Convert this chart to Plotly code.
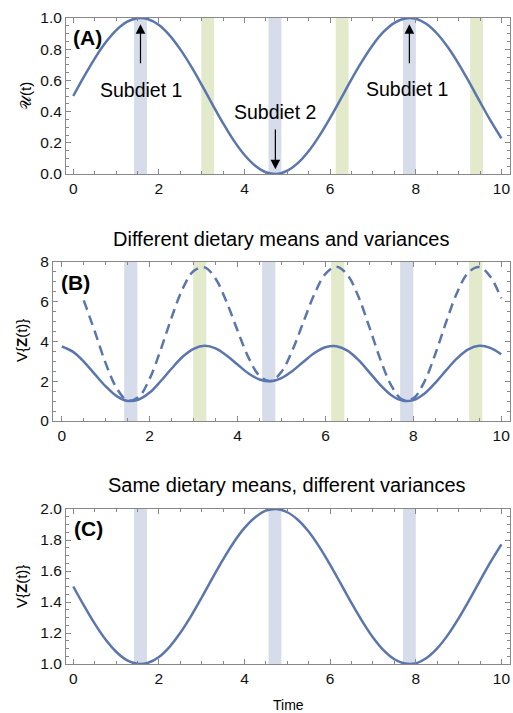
import plotly.graph_objects as go

# ---- data ----
t = [0.0, 0.25, 0.5, 0.75, 1.0, 1.25, 1.5, 1.75, 2.0, 2.25, 2.5, 2.75, 3.0, 3.25, 3.5, 3.75,
     4.0, 4.25, 4.5, 4.75, 5.0, 5.25, 5.5, 5.75, 6.0, 6.25, 6.5, 6.75, 7.0, 7.25, 7.5, 7.75,
     8.0, 8.25, 8.5, 8.75, 9.0, 9.25, 9.5, 9.75, 10.0]

u_vals = [0.500, 0.624, 0.740, 0.841, 0.921, 0.975, 0.999, 0.992, 0.955, 0.889, 0.799, 0.691,
          0.571, 0.446, 0.325, 0.214, 0.122, 0.053, 0.011, 0.000, 0.021, 0.071, 0.147, 0.246,
          0.360, 0.483, 0.608, 0.725, 0.829, 0.912, 0.969, 0.997, 0.995, 0.961, 0.899, 0.812,
          0.706, 0.587, 0.462, 0.340, 0.228]

b_solid = [3.75, 3.49, 2.99, 2.36, 1.74, 1.25, 1.01, 1.08, 1.43, 2.00, 2.64, 3.23, 3.63, 3.78,
           3.65, 3.30, 2.84, 2.39, 2.09, 2.00, 2.16, 2.52, 2.98, 3.42, 3.71, 3.76, 3.54, 3.07,
           2.45, 1.81, 1.30, 1.03, 1.05, 1.37, 1.92, 2.56, 3.16, 3.60, 3.78, 3.68, 3.36]

t_dash = t[2:]
b_dash = [6.07, 4.51, 2.90, 1.65, 1.03, 1.21, 2.13, 3.58, 5.21, 6.65, 7.55, 7.73, 7.16, 5.99,
          4.55, 3.19, 2.27, 2.01, 2.48, 3.57, 4.99, 6.39, 7.40, 7.76, 7.35, 6.26, 4.72, 3.10,
          1.78, 1.07, 1.14, 1.97, 3.37, 5.00, 6.48, 7.47, 7.75, 7.27, 6.17]

c_vals = [1.500, 1.376, 1.260, 1.159, 1.079, 1.025, 1.001, 1.008, 1.045, 1.111, 1.201, 1.309,
          1.429, 1.554, 1.675, 1.786, 1.878, 1.947, 1.989, 2.000, 1.979, 1.929, 1.853, 1.754,
          1.640, 1.517, 1.392, 1.275, 1.171, 1.088, 1.031, 1.003, 1.005, 1.039, 1.101, 1.188,
          1.294, 1.413, 1.538, 1.660, 1.772]

blue_bands = [1.57, 4.71, 7.85]
green_bands = [3.14, 6.28, 9.42]
band_half = 0.15

x_ticks = [0, 2, 4, 6, 8, 10]
titles = ["Different dietary means and variances", "Same dietary means, different variances"]

# ---- styling ----
LINE = "#5B76AE"
BLUE = "#D6DCEA"
GREEN = "#E3E9CB"
FRAME = "#888888"
FONT = "Liberation Sans, Arial, sans-serif"
W, H = 513, 713

fig = go.Figure()
fig.add_trace(go.Scatter(x=t, y=u_vals, mode="lines", line=dict(color=LINE, width=2.5, shape="spline"),
                         xaxis="x", yaxis="y", showlegend=False))
fig.add_trace(go.Scatter(x=t, y=b_solid, mode="lines", line=dict(color=LINE, width=2.5, shape="spline"),
                         xaxis="x2", yaxis="y2", showlegend=False))
fig.add_trace(go.Scatter(x=t_dash, y=b_dash, mode="lines",
                         line=dict(color=LINE, width=2.5, shape="spline", dash="10px,6px"),
                         xaxis="x2", yaxis="y2", showlegend=False))
fig.add_trace(go.Scatter(x=t, y=c_vals, mode="lines", line=dict(color=LINE, width=2.5, shape="spline"),
                         xaxis="x3", yaxis="y3", showlegend=False))

def px_dom_x(l, r):
    return [l / W, r / W]

def px_dom_y(top, bottom):
    return [1 - bottom / H, 1 - top / H]

def xax(dom, rng, anchor):
    return dict(domain=dom, range=rng, anchor=anchor, tickvals=x_ticks, automargin=False,
                showline=True, linecolor=FRAME, linewidth=1, mirror="allticks",
                ticks="inside", ticklen=5, tickwidth=1, tickcolor=FRAME,
                minor=dict(ticks="inside", ticklen=3, tickwidth=1, tickcolor=FRAME, dtick=0.5),
                showgrid=False, zeroline=False,
                tickfont=dict(family=FONT, size=15.5, color="#111"))

def yax(dom, rng, anchor, dtick, mdtick, fmt):
    return dict(domain=dom, range=rng, anchor=anchor, dtick=dtick, tick0=0, tickformat=fmt,
                automargin=False,
                showline=True, linecolor=FRAME, linewidth=1, mirror="allticks",
                ticks="inside", ticklen=5, tickwidth=1, tickcolor=FRAME,
                minor=dict(ticks="inside", ticklen=3, tickwidth=1, tickcolor=FRAME, dtick=mdtick),
                showgrid=False, zeroline=False,
                tickfont=dict(family=FONT, size=15.5, color="#111"))

fig.update_layout(
    width=W, height=H, margin=dict(l=0, r=0, t=0, b=0, autoexpand=False),
    paper_bgcolor="white", plot_bgcolor="white",
    xaxis=xax(px_dom_x(66, 510), [-0.17, 10.2], "y"),
    yaxis=yax(px_dom_y(18, 174), [0, 1], "x", 0.2, 0.05, ".1f"),
    xaxis2=xax(px_dom_x(53, 510), [-0.2, 10.2], "y2"),
    yaxis2=yax(px_dom_y(262, 421), [0, 8], "x2", 2, 0.5, "d"),
    xaxis3=xax(px_dom_x(66, 510), [-0.17, 10.2], "y3"),
    yaxis3=yax(px_dom_y(509, 664), [1, 2], "x3", 0.2, 0.05, ".1f"),
)

shapes = []
for xr, yr, bands in [("x", "y", [(b, BLUE) for b in blue_bands] + [(g, GREEN) for g in green_bands]),
                      ("x2", "y2", [(b, BLUE) for b in blue_bands] + [(g, GREEN) for g in green_bands]),
                      ("x3", "y3", [(b, BLUE) for b in blue_bands])]:
    for c, col in bands:
        shapes.append(dict(type="rect", xref=xr, yref=yr + " domain", x0=c - band_half, x1=c + band_half,
                           y0=0, y1=1, fillcolor=col, line=dict(width=0), layer="below"))
fig.update_layout(shapes=shapes)

ann = []
# panel labels
for lab, xr, yr, xx, yy in [("(A)", "x", "y", 0.011, 0.878), ("(B)", "x2", "y2", 0.013, 0.874),
                            ("(C)", "x3", "y3", 0.0135, 0.877)]:
    ann.append(dict(text="<b>" + lab + "</b>", xref=xr + " domain", yref=yr + " domain", x=xx, y=yy,
                    xanchor="left", yanchor="middle", showarrow=False,
                    font=dict(family=FONT, size=21, color="black")))
# subdiet labels
for txt, xx, yy in [("Subdiet 1", 1.57, 0.54), ("Subdiet 2", 4.70, 0.40), ("Subdiet 1", 7.8, 0.545)]:
    ann.append(dict(text=txt, xref="x", yref="y", x=xx, y=yy, showarrow=False,
                    font=dict(family=FONT, size=19.5, color="black")))
# arrows
for hx, hy, ty in [(1.57, 0.96, 0.70), (7.85, 0.96, 0.70), (4.72, 0.03, 0.295)]:
    ann.append(dict(text="", xref="x", yref="y", x=hx, y=hy, axref="x", ayref="y", ax=hx, ay=ty,
                    showarrow=True, arrowhead=2, arrowsize=1.6, arrowwidth=1.2, arrowcolor="black"))
# titles
ann.append(dict(text=titles[0], xref="paper", yref="paper", x=281 / W, y=1 - 239 / H, showarrow=False,
                xanchor="center", yanchor="middle", font=dict(family=FONT, size=20, color="black")))
ann.append(dict(text=titles[1], xref="paper", yref="paper", x=287 / W, y=1 - 485 / H, showarrow=False,
                xanchor="center", yanchor="middle", font=dict(family=FONT, size=20, color="black")))
# axis titles
ann.append(dict(text="Time", xref="paper", yref="paper", x=288 / W, y=1 - 705 / H, showarrow=False,
                xanchor="center", yanchor="middle", font=dict(family=FONT, size=14, color="black")))
for txt, xx, yy in [("\U0001D4B0(t)", 25, 96), ("V{<b>Z</b>(t)}", 21, 341), ("V{<b>Z</b>(t)}", 21, 587)]:
    ann.append(dict(text=txt, xref="paper", yref="paper", x=xx / W, y=1 - yy / H, showarrow=False,
                    textangle=-90, xanchor="center", yanchor="middle",
                    font=dict(family=FONT, size=15, color="black")))
fig.update_layout(annotations=ann)

post = (
    "document.documentElement.style.overflow='hidden';"
    "document.body.style.margin='0';document.body.style.padding='0';"
    "document.body.style.overflow='hidden';"
)

fig.write_html("out.html", config={"displayModeBar": False}, post_script=post)
